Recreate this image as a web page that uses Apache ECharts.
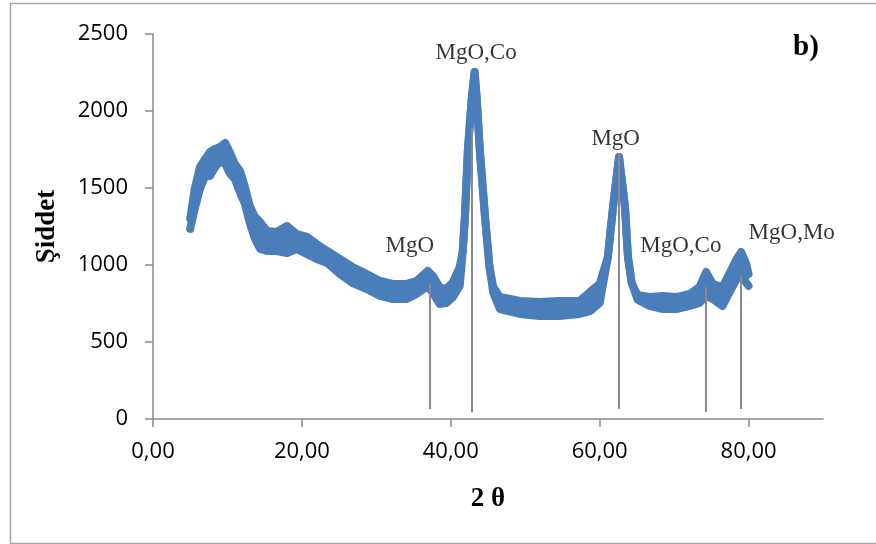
<!DOCTYPE html>
<html>
<head>
<meta charset="utf-8">
<script src="https://cdn.jsdelivr.net/npm/echarts@6/dist/echarts.min.js"></script>
<style>
html,body{margin:0;padding:0;background:#fff;}
#chart{width:876px;height:544px;}
</style>
</head>
<body>
<div id="chart"></div>
<script>
// 2θ positions (degrees)
const twoTheta = [5.0,5.6,6.3,7.0,7.65,8.3,9.0,9.7,10.3,11.0,11.7,12.35,13.0,13.7,14.4,15.3,16.6,18.0,19.3,20.7,22.0,23.4,25.1,26.8,28.7,30.5,32.2,34.1,35.4,36.9,37.6,38.5,39.4,40.3,41.2,41.6,41.9,42.3,42.8,43.2,43.5,43.9,44.6,45.2,45.7,46.6,49.3,51.9,54.6,57.3,58.7,60.0,61.1,61.8,62.6,63.4,63.8,64.3,65.1,66.7,68.5,70.3,72.1,73.4,74.3,75.2,76.5,77.4,78.4,79.0,79.7,80.0];
// lower edge of the noisy intensity band
const lowerEdge = [1234,1364,1494,1578,1578,1630,1675,1656,1597,1558,1468,1396,1273,1169,1104,1091,1091,1078,1104,1071,1039,1013,942,883,844,799,779,779,812,864,818,747,753,792,864,1084,1312,1747,2071,2253,2071,1747,1312,987,820,714,682,669,669,682,701,753,1052,1377,1701,1377,1052,883,775,734,714,714,734,753,799,779,734,818,909,948,883,864];
// upper edge of the noisy intensity band
const upperEdge = [1299,1494,1636,1688,1734,1753,1766,1792,1734,1656,1610,1507,1383,1312,1279,1221,1214,1253,1201,1182,1136,1091,1039,987,942,896,877,877,896,961,929,857,844,890,987,1084,1312,1747,2071,2253,2071,1747,1312,987,860,792,766,760,766,766,825,877,1052,1377,1701,1377,1052,883,805,792,799,792,812,857,955,877,857,942,1039,1084,1006,942];

// reference (phase) lines
const refLineX = [37.2, 42.8, 62.6, 74.3, 78.9];
const refLineTop = [877, 1890, 1727, 857, 935];
const refLineBottom = [65, 43, 67, 45, 65];

// peak annotations
const peakLabels = ['MgO', 'MgO,Co', 'MgO', 'MgO,Co', 'MgO,Mo'];
const labelX = [34.5, 43.4, 62.15, 70.9, 85.8];
const labelY = [1123, 2377, 1818, 1123, 1208];

const xTickValues = [0, 20, 40, 60, 80];
const yTickValues = [0, 500, 1000, 1500, 2000, 2500];
const xAxisTitle = '2 θ';
const yAxisTitle = 'Şiddet';
const panelTag = 'b)';

const blue = '#4a7ebb';
const gray = '#8a8a8a';

const chart = echarts.init(document.getElementById('chart'), null, {renderer: 'canvas'});

// band segments: each item joins sample i and i+1
const bandSegments = twoTheta.slice(0, -1).map((x, i) =>
  [x, lowerEdge[i], upperEdge[i], twoTheta[i + 1], lowerEdge[i + 1], upperEdge[i + 1]]);

const option = {
  animation: false,
  backgroundColor: '#fff',
  grid: {left: 153, right: 53, top: 34, bottom: 125, containLabel: false},
  xAxis: {
    type: 'value', min: 0, max: 90, interval: 20,
    axisLine: {show: true, lineStyle: {color: gray, width: 1.5}},
    axisTick: {show: true, inside: false, length: 8, lineStyle: {color: gray, width: 1.5},
      customValues: xTickValues},
    axisLabel: {margin: 22, color: '#000', fontFamily: 'Open Sans', fontSize: 22,
      customValues: xTickValues,
      formatter: v => v.toFixed(2).replace('.', ',')},
    splitLine: {show: false},
    name: xAxisTitle, nameLocation: 'middle', nameGap: 67,
    nameTextStyle: {fontFamily: 'Liberation Serif', fontWeight: 'bold', fontSize: 27, color: '#000'}
  },
  yAxis: {
    type: 'value', min: 0, max: 2500, interval: 500,
    axisLine: {show: true, lineStyle: {color: gray, width: 1.5}},
    axisTick: {show: true, inside: false, length: 8, lineStyle: {color: gray, width: 1.5},
      customValues: yTickValues},
    axisLabel: {margin: 25, color: '#000', fontFamily: 'Open Sans', fontSize: 22,
      customValues: yTickValues,
      formatter: v => String(v)},
    splitLine: {show: false},
    name: yAxisTitle, nameLocation: 'middle', nameGap: 92, nameRotate: 90,
    nameTextStyle: {fontFamily: 'Liberation Serif', fontWeight: 'bold', fontSize: 27, color: '#000'}
  },
  series: [
    {
      type: 'custom', z: 2, silent: true,
      data: bandSegments,
      encode: {x: [0, 3], y: [1, 2, 4, 5]},
      renderItem: (params, api) => {
        const a = api.coord([api.value(0), api.value(1)]);
        const b = api.coord([api.value(0), api.value(2)]);
        const c = api.coord([api.value(3), api.value(5)]);
        const d = api.coord([api.value(3), api.value(4)]);
        return {type: 'polygon', shape: {points: [a, b, c, d]},
          style: {fill: blue, stroke: blue, lineWidth: 1}};
      }
    },
    {
      type: 'line', symbol: 'none', z: 3, silent: true,
      data: twoTheta.map((x, i) => [x, lowerEdge[i]]),
      lineStyle: {color: blue, width: 8, cap: 'round', join: 'round'}
    },
    {
      type: 'line', symbol: 'none', z: 3, silent: true,
      data: twoTheta.map((x, i) => [x, upperEdge[i]]),
      lineStyle: {color: blue, width: 8, cap: 'round', join: 'round'}
    },
    {
      type: 'line', data: [], symbol: 'none', z: 5,
      markLine: {
        silent: true, symbol: 'none', animation: false,
        label: {show: false},
        lineStyle: {color: gray, width: 2, type: 'solid'},
        data: refLineX.map((x, i) => [{coord: [x, refLineBottom[i]]}, {coord: [x, refLineTop[i]]}])
      }
    },
    {
      type: 'scatter', symbolSize: 0, z: 6, silent: true,
      data: peakLabels.map((t, i) => [labelX[i], labelY[i], t]),
      label: {
        show: true, position: 'inside',
        formatter: p => p.data[2],
        fontFamily: 'Liberation Serif', fontSize: 23, color: '#000'
      }
    }
  ],
  graphic: [
    {type: 'rect', left: 8, top: 1, z: -10,
      shape: {width: 900, height: 540},
      style: {fill: 'none', stroke: '#a6a6a6', lineWidth: 1.5}},
    {type: 'text', left: 793, top: 33,
      style: {text: panelTag, font: 'bold 29px "Liberation Serif"', fill: '#000'}}
  ]
};
chart.setOption(option);
</script>
</body>
</html>
